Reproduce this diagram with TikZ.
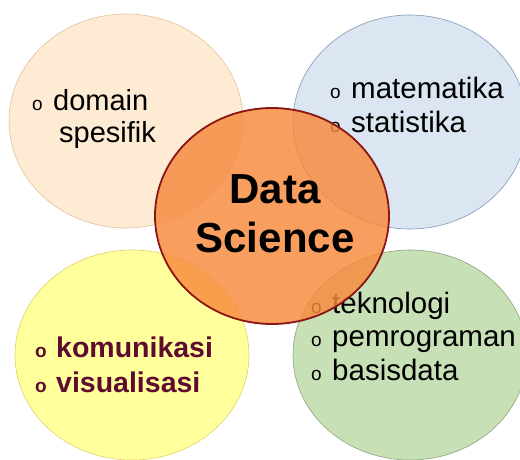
\documentclass[tikz,border=0pt]{standalone}
\usepackage{fontspec}
\setmainfont{Liberation Sans}
\usetikzlibrary{shapes.geometric,positioning}
\definecolor{peach}{HTML}{FDEBD3}
\definecolor{peachline}{HTML}{E3C29C}
\definecolor{sky}{HTML}{DCE6F2}
\definecolor{skyline}{HTML}{7F9AB8}
\definecolor{lemon}{HTML}{FFFF9C}
\definecolor{lemonline}{HTML}{E3CF6A}
\definecolor{leaf}{HTML}{C8E0B6}
\definecolor{leafline}{HTML}{8EA47E}
\definecolor{core}{HTML}{F7893C}
\definecolor{coreline}{HTML}{8B1414}
\definecolor{maroon}{HTML}{5E0B2F}
\newcommand{\bul}{\makebox[21pt][l]{\fontsize{19}{19}\selectfont o}}
\tikzset{
	blob/.style={ellipse,minimum width=234pt,minimum height=214pt,inner sep=0pt,line width=0.6pt},
	item/.style={anchor=base west,inner sep=0pt,align=left,font=\fontsize{29}{32}\selectfont},
}

\begin{document}
\begin{tikzpicture}[x=1pt,y=-1pt]
		\fill[white] (0,0) rectangle (520,459);
		\useasboundingbox (0,0) rectangle (520,459);
		% four fields round the core
		\node (dom) [blob,fill=peach,draw=peachline] at (126,121) {};
		\node (mat) [blob,fill=sky,draw=skyline] at (410,122) {};
		\node (kom) [blob,fill=lemon,draw=lemonline,minimum height=210pt] at (132,355) {};
		\node (tek) [blob,fill=leaf,draw=leafline,minimum height=210pt] at (410,355) {};
		% base anchor sits on the last line
		\node (domtxt) [item] at (32,142) {\bul domain\\\hspace*{27pt}spesifik};
		\node (mattxt) [item,font=\fontsize{29.5}{34}\selectfont] at (330,132) {\bul matematika\\\bul statistika};
		\node (komtxt) [item,font=\bfseries\fontsize{28.5}{35}\selectfont,text=maroon] at (35,392) {\bul komunikasi\\\bul visualisasi};
		\node (tektxt) [item,font=\fontsize{29.5}{33.5}\selectfont] at (311,380) {\bul teknologi\\\bul pemrograman\\\bul basisdata};
		% core
		\node (ds) [ellipse,minimum width=234pt,minimum height=216pt,inner sep=0pt,fill=core,fill opacity=0.82,draw=coreline,line width=1.8pt] at (272,216) {};
		\node (dstxt) [anchor=base,inner sep=0pt,align=center,font=\bfseries\fontsize{42}{49}\selectfont] at (275,252) {Data\\Science};
		\end{tikzpicture}
\end{document}
